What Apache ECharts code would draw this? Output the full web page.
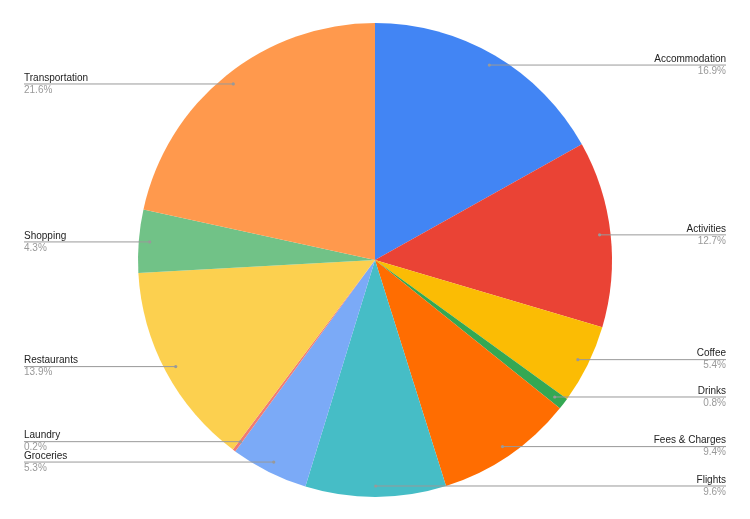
<!DOCTYPE html>
<html>
<head>
<meta charset="utf-8">
<script src="https://cdn.jsdelivr.net/npm/echarts@6/dist/echarts.min.js"></script>
<style>html,body{margin:0;padding:0;background:#fff}#c{width:750px;height:519px}</style>
</head>
<body>
<div id="c"></div>
<script>
const categories = ['Accommodation','Activities','Coffee','Drinks','Fees & Charges','Flights','Groceries','Laundry','Restaurants','Shopping','Transportation'];
const values = [16.9, 12.7, 5.4, 0.8, 9.4, 9.6, 5.3, 0.2, 13.9, 4.3, 21.6];
const colors = ['#4285F4','#EA4335','#FBBC04','#34A853','#FF6D01','#46BDC6','#7BAAF7','#F07B72','#FCD04F','#71C287','#FF994D'];

const CX = 375, CY = 260, R = 237, ANCHOR = 226;
const RIGHT_EDGE = 726, LEFT_EDGE = 24;
const total = values.reduce((a, b) => a + b, 0);
const cum = [];
values.reduce((acc, v, i) => { cum[i] = acc; return acc + v; }, 0);
function anchorOf(i) {
  const mid = (cum[i] + values[i] / 2) / total * Math.PI * 2;
  return [CX + ANCHOR * Math.sin(mid), CY - ANCHOR * Math.cos(mid)];
}

const guides = [];
values.forEach((v, i) => {
  const a = anchorOf(i);
  const edge = a[0] >= CX ? RIGHT_EDGE : LEFT_EDGE;
  guides.push({type: 'line', shape: {x1: a[0], y1: a[1], x2: edge, y2: a[1]},
    style: {stroke: '#999999', lineWidth: 1}, z: 100, silent: true});
  guides.push({type: 'circle', shape: {cx: a[0], cy: a[1], r: 1.6},
    style: {fill: '#999999'}, z: 101, silent: true});
});

const chart = echarts.init(document.getElementById('c'), null, {renderer: 'canvas'});
chart.setOption({
  animation: false,
  backgroundColor: '#fff',
  textStyle: {fontFamily: 'Liberation Sans, Arial, sans-serif'},
  series: [{
    type: 'pie',
    center: [CX, CY],
    radius: R,
    startAngle: 90,
    clockwise: true,
    avoidLabelOverlap: false,
    emphasis: {disabled: true},
    data: categories.map((n, i) => ({name: n, value: values[i], itemStyle: {color: colors[i]}})),
    label: {
      show: true,
      position: 'outside',
      formatter: p => '{n|' + p.name + '}\n{p|' + p.value + '%}',
      rich: {
        n: {fontSize: 10, color: '#222222', lineHeight: 12, fontFamily: 'Liberation Sans'},
        p: {fontSize: 10, color: '#999999', lineHeight: 12, fontFamily: 'Liberation Sans'}
      }
    },
    labelLine: {show: false},
    labelLayout: function (params) {
      const a = anchorOf(params.dataIndex);
      const right = a[0] >= CX;
      return {
        x: right ? RIGHT_EDGE : LEFT_EDGE,
        y: a[1],
        align: right ? 'right' : 'left',
        verticalAlign: 'middle'
      };
    }
  }],
  graphic: guides
});
</script>
</body>
</html>
